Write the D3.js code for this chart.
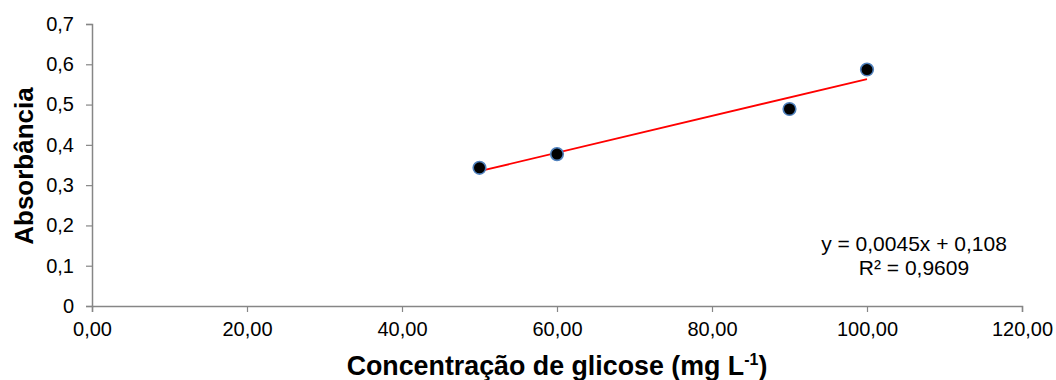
<!DOCTYPE html>
<html>
<head>
<meta charset="utf-8">
<script src="https://cdn.jsdelivr.net/npm/d3@7"></script>
<style>
  body { margin: 0; background: #fff; }
  text { font-family: "Liberation Sans", Arial, sans-serif; fill: #000; }
</style>
</head>
<body>
<script>
let width = 1056,
  height = 380,
  padding = { left: 92, right: 34, top: 24, bottom: 74 }

// dados
let conc = [50, 60, 90, 100]
let absorb = [0.343, 0.377, 0.489, 0.587]
let xTicks = [0, 20, 40, 60, 80, 100, 120]
let yTicks = [0, 0.1, 0.2, 0.3, 0.4, 0.5, 0.6, 0.7]
let eqLines = ['y = 0,0045x + 0,108', 'R² = 0,9609']

let svg = d3.select('body').append('svg')
  .attr('width', width)
  .attr('height', height)

let scaleX = d3.scaleLinear()
  .domain([0, 120])
  .range([padding.left, width - padding.right])

let scaleY = d3.scaleLinear()
  .domain([0, 0.7])
  .range([height - padding.bottom, padding.top])

let fmtX = v => v.toFixed(2).replace('.', ',')
let fmtY = v => v === 0 ? '0' : v.toFixed(1).replace('.', ',')

let axisX = d3.axisBottom(scaleX).tickValues(xTicks).tickFormat(fmtX).tickSizeOuter(0).tickSize(6).tickPadding(10)
let axisY = d3.axisLeft(scaleY).tickValues(yTicks).tickFormat(fmtY).tickSizeOuter(0).tickSize(6).tickPadding(12)

let gx = svg.append('g')
  .attr('transform', 'translate(0,' + (height - padding.bottom) + ')')
  .call(axisX)
let gy = svg.append('g')
  .attr('transform', 'translate(' + padding.left + ',0)')
  .call(axisY)

;[gx, gy].forEach(g => {
  g.select('.domain').attr('stroke', '#868686').attr('stroke-width', 1.5)
  g.selectAll('.tick line').attr('stroke', '#868686').attr('stroke-width', 1.2)
  g.selectAll('.tick text').attr('font-size', 20).attr('fill', '#000')
    .style('font-family', '"Liberation Sans", Arial, sans-serif')
})

// linha de tendência (mínimos quadrados)
let mx = d3.mean(conc), my = d3.mean(absorb)
let slope = d3.sum(conc, (x, i) => (x - mx) * (absorb[i] - my)) / d3.sum(conc, x => (x - mx) * (x - mx))
let icpt = my - slope * mx
let x0 = d3.min(conc), x1 = d3.max(conc)

svg.append('line')
  .attr('x1', scaleX(x0)).attr('y1', scaleY(icpt + slope * x0))
  .attr('x2', scaleX(x1)).attr('y2', scaleY(icpt + slope * x1))
  .attr('stroke', '#ff0000')
  .attr('stroke-width', 1.8)

svg.selectAll('circle')
  .data(conc)
  .enter()
  .append('circle')
  .attr('cx', d => scaleX(d))
  .attr('cy', (d, i) => scaleY(absorb[i]))
  .attr('r', 6.3)
  .attr('fill', '#000')
  .attr('stroke', '#4f81bd')
  .attr('stroke-width', 1.6)

svg.selectAll('.eq')
  .data(eqLines)
  .enter()
  .append('text')
  .attr('class', 'eq')
  .attr('x', 914)
  .attr('y', (d, i) => 251 + i * 24)
  .attr('text-anchor', 'middle')
  .attr('font-size', 21)
  .text(d => d)

svg.append('text')
  .attr('transform', 'translate(33,' + 166 + ') rotate(-90)')
  .attr('text-anchor', 'middle')
  .attr('font-size', 26)
  .attr('font-weight', 'bold')
  .text('Absorbância')

let xt = svg.append('text')
  .attr('x', (padding.left + width - padding.right) / 2)
  .attr('y', 375)
  .attr('text-anchor', 'middle')
  .attr('font-size', 26.8)
  .attr('font-weight', 'bold')
xt.append('tspan').text('Concentração de glicose (mg L')
xt.append('tspan').attr('dy', -10).attr('font-size', 16).text('-1')
xt.append('tspan').attr('dy', 10).text(')')
</script>
</body>
</html>
